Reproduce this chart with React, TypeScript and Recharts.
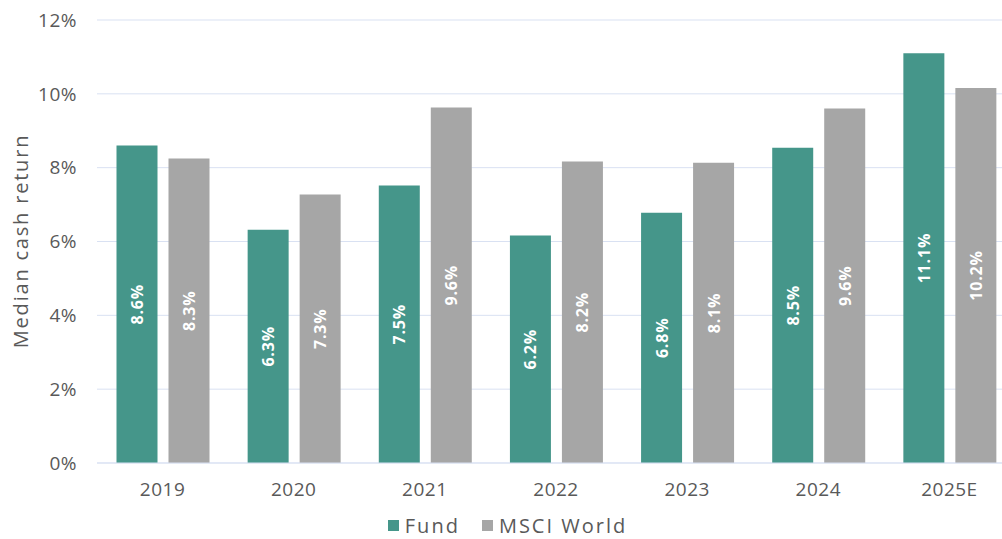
import React from 'react';
import {
  BarChart,
  Bar,
  XAxis,
  YAxis,
  CartesianGrid,
  Legend,
  LabelList,
  Label,
} from 'recharts';

const years = ['2019', '2020', '2021', '2022', '2023', '2024', '2025E'];
const fundValues = [8.6, 6.32, 7.52, 6.16, 6.78, 8.54, 11.1];
const msciValues = [8.25, 7.27, 9.63, 8.17, 8.13, 9.6, 10.16];
const yTicks = [0, 2, 4, 6, 8, 10, 12];

const FUND = '#45968A';
const MSCI = '#A6A6A6';
const TEXT = '#595959';
const GRID = '#D9E1F2';
const FONT = '"Open Sans", "Noto Sans", sans-serif';

const data = years.map((year, i) => ({
  year,
  fund: fundValues[i],
  msci: msciValues[i],
}));

// value label drawn rotated in the middle of each bar
const BarValue = (props: any) => {
  const { x, y, width, height, value } = props;
  const cx = x + width / 2;
  const cy = y + height / 2;
  return (
    <text
      x={cx}
      y={cy}
      transform={`rotate(-90 ${cx} ${cy})`}
      textAnchor="middle"
      dominantBaseline="central"
      fill="#ffffff"
      fontWeight={700}
      fontSize={16}
      letterSpacing={0.8}
      fontFamily={FONT}
    >
      {`${Number(value).toFixed(1)}%`}
    </text>
  );
};

const AxisTitle = () => (
  <text
    x={20}
    y={241}
    transform="rotate(-90 20 241)"
    textAnchor="middle"
    dominantBaseline="central"
    fill={TEXT}
    fontSize={20}
    letterSpacing={1.8}
    fontFamily={FONT}
  >
    Median cash return
  </text>
);

const LegendBox = () => (
  <div
    style={{
      display: 'flex',
      justifyContent: 'center',
      alignItems: 'center',
      gap: 22,
      paddingTop: 13,
      height: 27,
      lineHeight: '27px',
      fontFamily: FONT,
      fontSize: 20,
      letterSpacing: 2,
      color: TEXT,
    }}
  >
    {[
      { name: 'Fund', color: FUND },
      { name: 'MSCI World', color: MSCI },
    ].map((item) => (
      <div key={item.name} style={{ display: 'flex', alignItems: 'center', gap: 6 }}>
        <div style={{ width: 11, height: 11, background: item.color }} />
        <span>{item.name}</span>
      </div>
    ))}
  </div>
);

export default function App() {
  return (
    <div style={{ position: 'absolute', left: 0, top: 0, background: '#fff', overflow: 'hidden', width: 1002, height: 539 }}>
      <BarChart
        width={1002}
        height={539}
        data={data}
        margin={{ top: 20, right: -13, bottom: 0, left: 0 }}
        barCategoryGap={19.5}
        barGap={11}
      >
        <CartesianGrid vertical={false} stroke={GRID} strokeWidth={1} />
        <XAxis
          dataKey="year"
          axisLine={{ stroke: GRID }}
          tickLine={false}
          height={36}
          tickMargin={14}
          tick={{ fill: TEXT, fontSize: 19, fontFamily: FONT, letterSpacing: 0.5 }}
        />
        <YAxis
          width={97}
          domain={[0, 12]}
          ticks={yTicks}
          axisLine={false}
          tickLine={false}
          tickSize={0}
          tickMargin={20}
          tickFormatter={(v) => `${v}%`}
          tick={{ fill: TEXT, fontSize: 19, fontFamily: FONT, letterSpacing: 0.5 }}
        >
          <Label content={<AxisTitle />} />
        </YAxis>
        <Legend verticalAlign="bottom" height={40} content={<LegendBox />} />
        <Bar dataKey="fund" name="Fund" fill={FUND} isAnimationActive={false}>
          <LabelList dataKey="fund" content={<BarValue />} />
        </Bar>
        <Bar dataKey="msci" name="MSCI World" fill={MSCI} isAnimationActive={false}>
          <LabelList dataKey="msci" content={<BarValue />} />
        </Bar>
      </BarChart>
    </div>
  );
}
